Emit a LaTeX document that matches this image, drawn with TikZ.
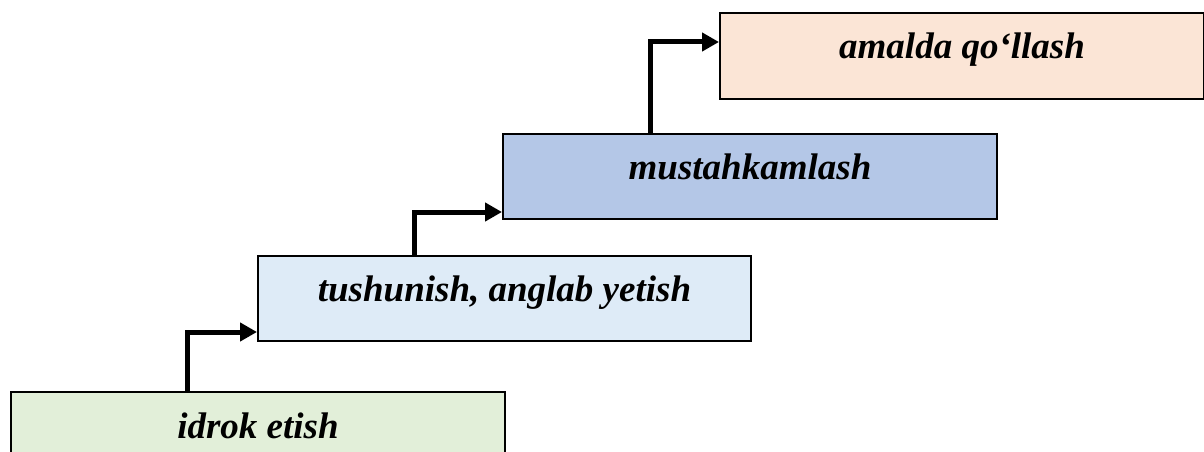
\documentclass[tikz,border=0pt]{standalone}
\usepackage{fontspec}
\setmainfont{Liberation Serif}
\usetikzlibrary{arrows.meta}
\definecolor{cgreen}{HTML}{E2EFD9}
\definecolor{clight}{HTML}{DEEBF7}
\definecolor{cblue}{HTML}{B4C7E7}
\definecolor{cpeach}{HTML}{FBE5D6}
\tikzset{
  box/.style={draw=black, line width=2pt, anchor=north west, inner sep=0pt,
    text height=16pt, text depth=10pt,
    font=\fontsize{37}{44}\selectfont\bfseries\itshape},
  arr/.style={line width=5pt, line join=miter,
    -{Triangle[length=17pt,width=18pt]}}
}
\begin{document}
\begin{tikzpicture}[x=1pt,y=-1pt]
\useasboundingbox (0,0) rectangle (1204,452);
\node[box, fill=cgreen, minimum width=494pt, minimum height=86pt] (b1) at (10,391) {idrok etish};
\node[box, fill=clight, minimum width=493pt, minimum height=85pt] (b2) at (257,255) {tushunish, anglab yetish};
\node[box, fill=cblue, minimum width=494pt, minimum height=85pt] (b3) at (502,133) {mustahkamlash};
\node[box, fill=cpeach, minimum width=484pt, minimum height=86pt] (b4) at (719,12) {amalda qo‘llash};
\draw[arr] ([xshift=177pt]b1.north west) |- ([yshift=10pt]b2.south west);
\draw[arr] ([xshift=157pt]b2.north west) |- ([yshift=8pt]b3.south west);
\draw[arr] ([xshift=148pt]b3.north west) |- ([yshift=-30pt]b4.north west);
\end{tikzpicture}
\end{document}
